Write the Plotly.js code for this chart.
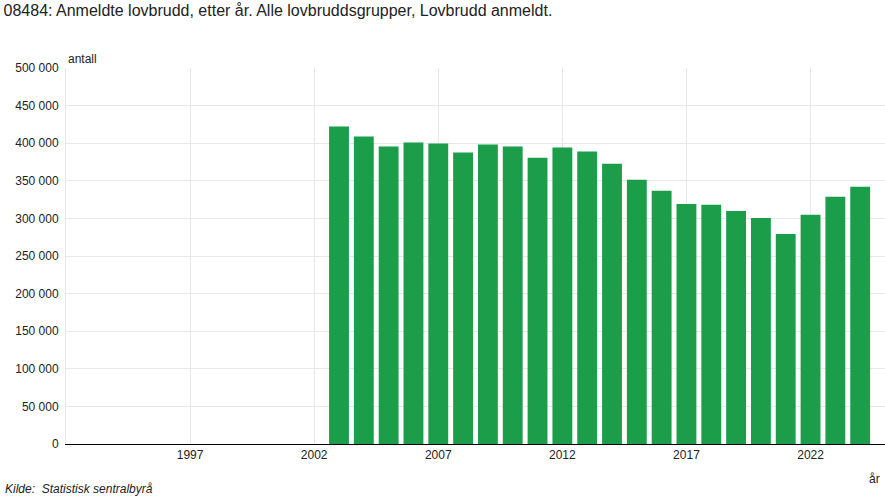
<!DOCTYPE html>
<html>
<head>
<meta charset="utf-8">
<script src="https://cdn.plot.ly/plotly-3.0.1.min.js"></script>
<style>html,body{margin:0;padding:0;background:#fff;}#chart{width:885px;height:500px;}</style>
</head>
<body>
<div id="chart"></div>
<script>
const years = [2003,2004,2005,2006,2007,2008,2009,2010,2011,2012,2013,2014,2015,2016,2017,2018,2019,2020,2021,2022,2023,2024];
const offences = [422100,408800,395500,400800,399500,387500,398200,395500,380800,394200,388800,372700,351300,336700,319300,318000,310000,300400,279100,304900,328700,342000];
const xTicks = [1997,2002,2007,2012,2017,2022];
const yTicks = [0,50000,100000,150000,200000,250000,300000,350000,400000,450000,500000];
const yTickText = ['0','50 000','100 000','150 000','200 000','250 000','300 000','350 000','400 000','450 000','500 000'];

const font = 'Liberation Sans, Arial, sans-serif';
const trace = {
  type: 'bar', x: years, y: offences,
  marker: {color: '#1b9d4a'},
  hoverinfo: 'x+y'
};
const layout = {
  width: 885, height: 500,
  margin: {l: 66, r: 0, t: 68, b: 56},
  paper_bgcolor: '#fff', plot_bgcolor: '#fff',
  font: {family: font, size: 12, color: '#222'},
  showlegend: false,
  bargap: 0.2,
  title: {text: '08484: Anmeldte lovbrudd, etter år. Alle lovbruddsgrupper, Lovbrudd anmeldt.',
    font: {family: font, size: 16, color: '#222'},
    x: 0.004, xanchor: 'left', xref: 'container', y: 0.979, yanchor: 'middle', yref: 'container'},
  xaxis: {range: [1992, 2025], tickvals: xTicks, ticktext: xTicks.map(String),
    showgrid: true, gridcolor: '#e8e8e8', gridwidth: 1,
    showline: true, linecolor: '#000', linewidth: 1, ticks: '', zeroline: false,
    tickfont: {size: 12, color: '#222'}},
  yaxis: {range: [0, 500000], tickvals: yTicks, ticktext: yTickText,
    showgrid: true, gridcolor: '#e8e8e8', gridwidth: 1,
    showline: true, linecolor: '#e8e8e8', linewidth: 1, zeroline: false, ticks: '',
    ticklabelstandoff: 4,
    tickfont: {size: 12, color: '#222'}},
  annotations: [
    {text: 'antall', xref: 'paper', yref: 'paper', x: 0, y: 1, xanchor: 'left', yanchor: 'bottom', showarrow: false, yshift: 0, font: {size: 12, color: '#222'}},
    {text: 'år', xref: 'paper', yref: 'paper', x: 1, y: 0, xanchor: 'right', yanchor: 'top', showarrow: false, xshift: -3, yshift: -26, font: {size: 12, color: '#222'}},
    {text: '<i>Kilde:&nbsp; Statistisk sentralbyrå</i>', xref: 'paper', yref: 'paper', x: 0, y: 0, xanchor: 'left', yanchor: 'top', showarrow: false, xshift: -63, yshift: -36, font: {size: 12, color: '#222'}}
  ]
};
Plotly.newPlot('chart', [trace], layout, {displayModeBar: false, staticPlot: true});
</script>
</body>
</html>
